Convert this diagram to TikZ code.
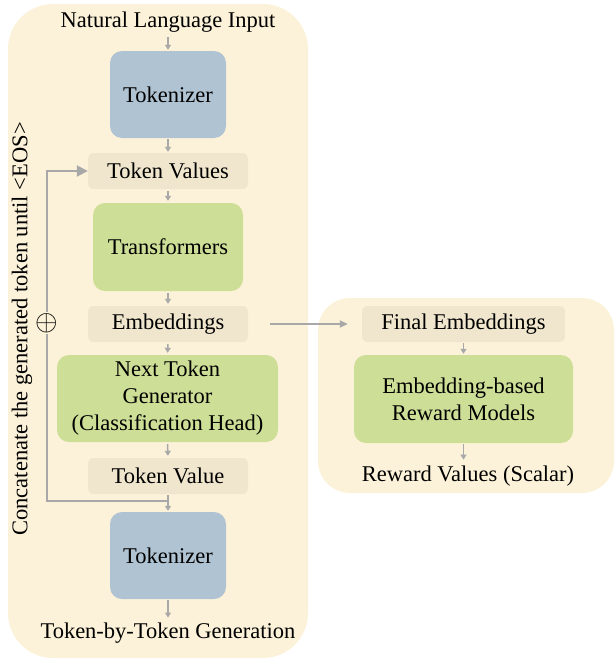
\documentclass[tikz,border=0pt]{standalone}
\usepackage{fontspec}
\usepackage{graphicx}
\setmainfont{Liberation Serif}
\usetikzlibrary{arrows.meta}
\definecolor{panel}{RGB}{252,242,217}
\definecolor{tokfill}{RGB}{239,230,205}
\definecolor{bluebox}{RGB}{175,195,210}
\definecolor{greenbox}{RGB}{205,222,150}
\definecolor{arr}{RGB}{168,168,168}
\begin{document}
\begin{tikzpicture}[x=1pt,y=-1pt,
  font=\fontsize{22.5}{27}\selectfont,
  panelbox/.style={fill=panel,draw=none},
  tokbox/.style={fill=tokfill,rounded corners=5pt,minimum width=160pt,minimum height=36pt,inner sep=0pt},
  bluenode/.style={fill=bluebox,rounded corners=12pt,minimum width=116pt,minimum height=87pt,inner sep=0pt},
  greennode/.style={fill=greenbox,rounded corners=12pt,minimum height=87pt,inner sep=0pt,align=center},
  plain/.style={inner sep=0pt},
  flow/.style={draw=arr,line width=1.5pt,-{Triangle[length=5pt,width=6pt]}},
  loopline/.style={draw=arr,line width=2pt,-{Triangle[length=11pt,width=11pt]}},
  sidearrow/.style={draw=arr,line width=1.8pt,-{Triangle[length=8pt,width=7pt]}}
]
\useasboundingbox (0,0) rectangle (615,659);
% panels
\fill[panelbox,rounded corners=45pt] (8,4) rectangle (308,658);
\fill[panelbox,rounded corners=32pt] (318,298) rectangle (614,493);

% left column
\node[plain] (nli) at (168,22) {Natural Language Input};
\node[bluenode] (tok1) at (168,94.5) {Tokenizer};
\node[tokbox] (tvs) at (168,171) {Token Values};
\node[greennode,minimum width=150pt,minimum height=88pt] (tr) at (168,247) {Transformers};
\node[tokbox] (emb) at (168,324) {Embeddings};
\node[greennode,minimum width=221pt] (ntg) at (167.5,398.5) {Next Token\\Generator\\(Classification Head)};
\node[tokbox] (tv) at (168,476) {Token Value};
\node[bluenode] (tok2) at (168,555.5) {Tokenizer};
\node[plain] (out) at (168,633) {Token-by-Token Generation};

% right column
\node[tokbox,minimum width=203pt] (fe) at (463.5,324) {Final Embeddings};
\node[greennode,minimum width=219pt,minimum height=88pt] (rm) at (463.5,399) {Embedding-based\\Reward Models};
\node[plain] (rv) at (468,476) {Reward Values (Scalar)};

% side label
\node[plain,rotate=90] (lbl) at (22,329) {Concatenate the generated token until <EOS>};

% arrows
\draw[flow,shorten <=5pt,shorten >=1pt] (nli.south) -- (tok1.north);
\draw[flow,shorten <=1pt,shorten >=1pt] (tok1.south) -- (tvs.north);
\draw[flow,shorten <=2pt,shorten >=2pt] (tvs.south) -- (tr.north);
\draw[flow,shorten <=2pt,shorten >=2pt] (tr.south) -- (emb.north);
\draw[flow,shorten <=2pt,shorten >=2pt] (emb.south) -- (ntg.north);
\draw[flow,shorten <=2pt,shorten >=2pt] (ntg.south) -- (tv.north);
\draw[flow,shorten <=1pt,shorten >=1pt] (tv.south) -- (tok2.north);
\draw[flow,shorten <=1pt,shorten >=5pt] (tok2.south) -- (out.north);
\draw[flow,shorten <=1pt,shorten >=1pt] (fe.south) -- (rm.north);
\draw[flow,shorten <=1pt,shorten >=6pt] (rm.south) -- (rm.south |- rv.north);
\draw[sidearrow,shorten <=22pt,shorten >=14pt] (emb.east) -- (fe.west);

% feedback loop
\coordinate (j) at (168,501);
\draw[loopline] (j) -- (47,501) |- (tvs.west);
\node[fill=panel,inner sep=1pt,font=\normalsize] (plus) at (47,323) {\scalebox{2.9}{$\oplus$}};
\end{tikzpicture}
\end{document}
